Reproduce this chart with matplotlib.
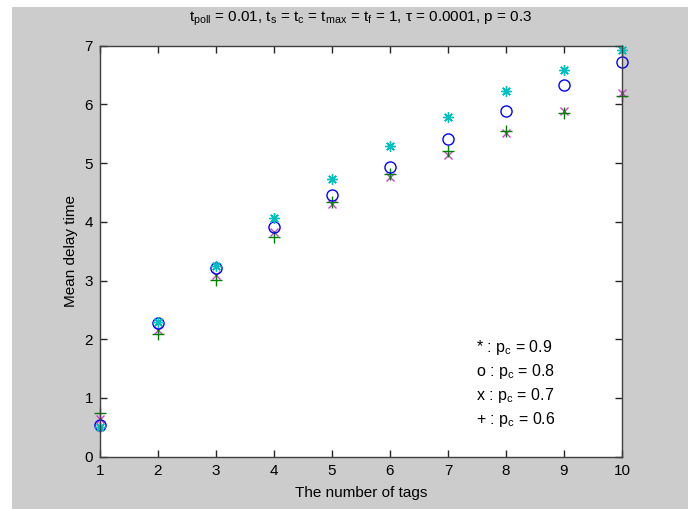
import matplotlib.pyplot as plt
from matplotlib.patches import Rectangle

plt.rcParams['font.family'] = 'Liberation Sans'
plt.rcParams['mathtext.fontset'] = 'custom'
plt.rcParams['mathtext.rm'] = 'Liberation Sans'
plt.rcParams['mathtext.it'] = 'Liberation Sans'

# number of tags
tags = [1, 2, 3, 4, 5, 6, 7, 8, 9, 10]
# mean delay time for each collision probability
delay_09 = [0.51, 2.29, 3.24, 4.06, 4.73, 5.30, 5.79, 6.22, 6.59, 6.92]
delay_08 = [0.54, 2.27, 3.21, 3.91, 4.45, 4.93, 5.41, 5.88, 6.33, 6.73]
delay_07 = [0.64, 2.16, 3.10, 3.82, 4.30, 4.76, 5.14, 5.51, 5.89, 6.20]
delay_06 = [0.74, 2.09, 3.01, 3.75, 4.34, 4.82, 5.20, 5.55, 5.85, 6.14]

legend_lines = [r'* : p$_\mathregular{c}$ = 0.9', r'o : p$_\mathregular{c}$ = 0.8',
                r'x : p$_\mathregular{c}$ = 0.7', r'+ : p$_\mathregular{c}$ = 0.6']
title = (r'$\mathregular{t_{poll}}$ = 0.01, $\mathregular{t_s}$ = $\mathregular{t_c}$ = '
         r'$\mathregular{t_{max}}$ = $\mathregular{t_f}$ = 1, τ = 0.0001, p = 0.3')

fig = plt.figure(figsize=(6.88, 5.09), dpi=100, facecolor='white')
# matlab grey figure background (small white strip top/left as in the screenshot)
fig.patches.append(Rectangle((12 / 688, 0), 1, 502 / 509, transform=fig.transFigure,
                             facecolor='#cccccc', edgecolor='none', zorder=-1))

ax = fig.add_axes([100 / 688, 52.3 / 509, 522 / 688, 411 / 509])
ax.plot(tags, delay_07, linestyle='none', marker='x', color='#d040d0', ms=5.5, mew=1, clip_on=False)
ax.plot(tags, delay_06, linestyle='none', marker='+', color='#008000', ms=9, mew=1, clip_on=False)
ax.plot(tags, delay_08, linestyle='none', marker='o', mfc='none', mec='#0000ff', ms=8, mew=1, clip_on=False)
ax.plot(tags, delay_09, linestyle='none', marker=(8, 2, 0), color='#00c0c0', ms=7.5, mew=1, clip_on=False)

ax.set_xlim(1, 10)
ax.set_ylim(0, 7)
ax.set_xticks(tags)
ax.set_yticks(range(8))
ax.tick_params(direction='in', length=5, width=1, top=True, right=True,
               labelsize=11, colors='#262626', labelcolor='black', pad=5)
for s in ax.spines.values():
    s.set_color('#404040')
    s.set_linewidth(1)

ax.set_xlabel('The number of tags', fontsize=11, labelpad=6)
ax.set_ylabel('Mean delay time', fontsize=11, labelpad=5)
ax.set_title(title, fontsize=11, pad=17)

for i, line in enumerate(legend_lines):
    ax.text(7.48, 1.86 - 0.41 * i, line, fontsize=11.5, va='center', ha='left')

fig.savefig('out.png', dpi=100, facecolor=fig.get_facecolor())
